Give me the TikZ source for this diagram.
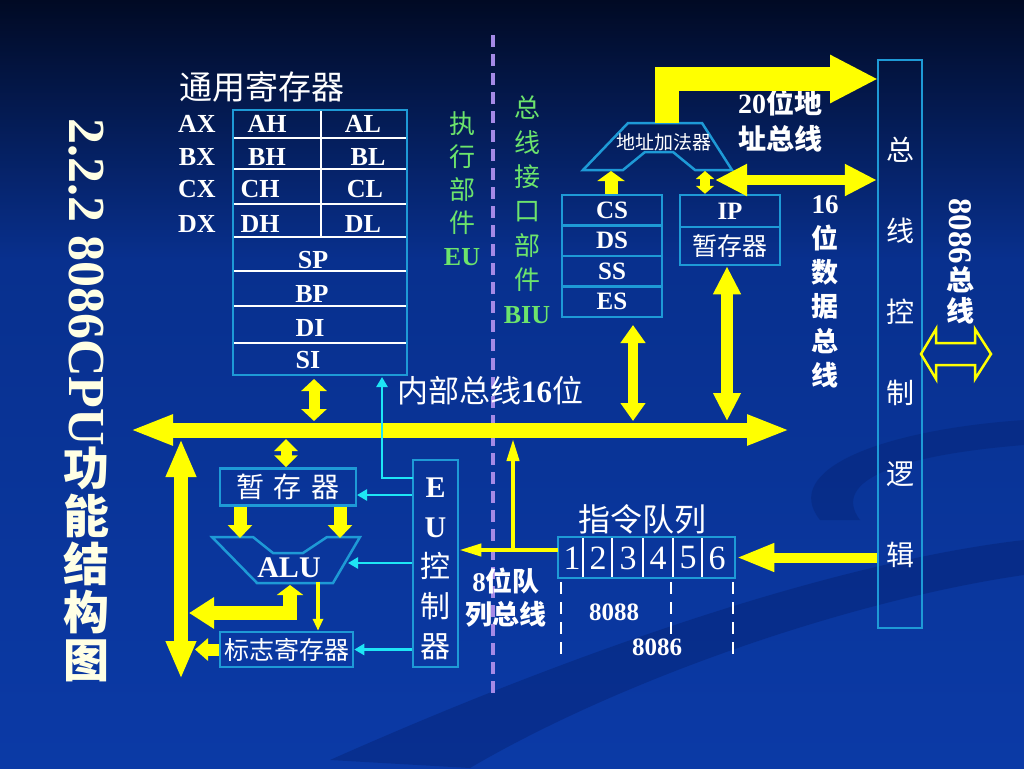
\documentclass[tikz,border=0pt]{standalone}
\usepackage{fontspec}
\setmainfont{Liberation Serif}
\newfontfamily\cjk{Noto Sans CJK SC}
\usetikzlibrary{arrows.meta,positioning,calc}
\definecolor{bgtop}{HTML}{010A24}
\definecolor{bgmid}{HTML}{08308E}
\definecolor{bgbot}{HTML}{0B3AA6}
\definecolor{boxline}{HTML}{1E9AD6}
\definecolor{busyel}{HTML}{FFFF00}
\definecolor{ctlcyan}{HTML}{1EE6F5}
\definecolor{unitgreen}{HTML}{6CE46C}
\definecolor{divpurple}{HTML}{A58AE6}
\definecolor{titlecream}{HTML}{FFFFE4}
\definecolor{swoosh}{HTML}{031C66}
\newcommand\setfs[1]{\fontsize{#1}{#1}\selectfont}

\begin{document}
\begin{tikzpicture}[
    x=1pt,
    y=-1pt,
    lat/.style={text=white, inner sep=0pt, font=\bfseries\setfs{#1}},
    lat/.default=26,
    han/.style={text=white, inner sep=0pt, font=\cjk\setfs{#1}},
    han/.default=26,
    stack/.style n args={2}{text=white, inner sep=0pt, align=center, font=\cjk\fontsize{#1}{#2}\selectfont},
    box/.style={draw=boxline, line width=2.5pt, inner sep=0pt, text=white},
    cellline/.style={draw=white, line width=1.2pt},
    yarr/.style n args={3}{draw=busyel, line width=#1, -{Triangle[length=#2,width=#3]}},
    ydbl/.style n args={3}{draw=busyel, line width=#1, {Triangle[length=#2,width=#3]}-{Triangle[length=#2,width=#3]}},
    cyanarr/.style={draw=ctlcyan, line width=2.5pt, -{Triangle[length=10pt,width=11pt]}},
    divider/.style={draw=divpurple, line width=3.5pt, dash pattern=on 12pt off 7pt},
    qdash/.style={draw=white, line width=2pt, dash pattern=on 12pt off 8pt},
    unitlbl/.style={text=unitgreen, inner sep=0pt, align=center, font=\cjk\fontsize{26}{#1}\selectfont},
    ttl/.style={inner sep=0pt, text=titlecream, font=\bfseries\setfs{52}}
  ]
    \useasboundingbox (0,0) rectangle (1024,768);
    \shade[top color=bgtop, bottom color=bgmid] (0,0) rectangle (1024,260);
    \shade[top color=bgmid, bottom color=bgbot] (0,259) rectangle (1024,768);
    \fill[swoosh, opacity=0.35] (330,760) .. controls (600,640) and (850,560) .. (1024,540) -- (1024,575) .. controls (850,600) and (620,680) .. (470,768) -- cycle;
    \fill[swoosh, opacity=0.3] (820,520) .. controls (780,470) and (880,430) .. (1024,420) -- (1024,445) .. controls (900,455) and (830,480) .. (860,520) -- cycle;

    \node[ttl, rotate=-90, anchor=west] (ttl) at (86,118) {2.2.2 8086CPU};
    \node[text=titlecream, inner sep=0pt, anchor=north, align=center, font=\cjk\bfseries\fontsize{46}{48}\selectfont] (ttlzh) at (ttl.east) {功\\能\\结\\构\\图};

    \node[han=33] (gprtitle) at (262,87) {通用寄存器};
    \node[box, minimum width=174pt, minimum height=265pt] (regs) at (320,242.5) {};
    \foreach \yy in {138,169,204,237,271,306,343}
      \draw[cellline] (234,\yy) -- (406,\yy);
    \draw[cellline] (321,111) -- (321,237);
    \node[lat] (ax) at (197,124) {AX};
    \node[lat] (bx) at (197,157) {BX};
    \node[lat] (cx) at (197,189) {CX};
    \node[lat] (dx) at (197,224) {DX};
    \node[lat] (ah) at (267,124) {AH};
    \node[lat] (al) at (363,124) {AL};
    \node[lat] (bh) at (267,157) {BH};
    \node[lat] (bl) at (368,157) {BL};
    \node[lat] (ch) at (260,189) {CH};
    \node[lat] (cl) at (365,189) {CL};
    \node[lat] (dh) at (260,224) {DH};
    \node[lat] (dl) at (363,224) {DL};
    \node[lat] (sp) at (313,260) {SP};
    \node[lat] (bp) at (312,294) {BP};
    \node[lat] (di) at (310,328) {DI};
    \node[lat] (si) at (308,360) {SI};

    \node[unitlbl=33] (eulbl) at (462,189) {执\\行\\部\\件\\{\rmfamily\bfseries EU}};
    \node[unitlbl=34.3] (biulbl) at (527,210) {总\\线\\接\\口\\部\\件\\{\rmfamily\bfseries BIU}};
    \coordinate (divtop) at (493,35);
    \coordinate (divbot) at (493,698);
    \draw[divider] (divtop) -- (divbot);

    \node[han=31] (buslbl) at (490,391) {内部总线{\rmfamily\bfseries 16}位};

    \node[box, minimum width=136pt, minimum height=37pt, font=\cjk\setfs{28}] (tmpreg) at (288,487) {暂\hspace{10pt}存\hspace{10pt}器};
    \draw[box] (212,537) -- (253,537) -- (273,553) -- (303,553) -- (327,537) -- (360,537) -- (333,583) -- (257,583) -- cycle;
    \node[lat=30] (alu) at (289,568) {ALU};
    \node[box, minimum width=133pt, minimum height=35pt, font=\cjk\setfs{25}] (flags) at (286.5,649.5) {标志寄存器};
    \node[box, minimum width=45pt, minimum height=207pt] (euctl) at (435.5,563.5) {};
    \node[stack={30}{40}] (euctltxt) at (435.5,569) {{\rmfamily\bfseries E}\\{\rmfamily\bfseries U}\\控\\制\\器};

    \node[han=32] (qtitle) at (642,519) {指令队列};
    \node[box, minimum width=177pt, minimum height=41pt] (queue) at (646.5,557.5) {};
    \foreach \xx in {583,612,643,673,702}
      \draw[cellline] (\xx,538) -- (\xx,577);
    \foreach \d/\xx in {1/572,2/598,3/628,4/658,5/688,6/717}
      \node[text=white, inner sep=0pt, font=\setfs{34}] (q\d) at (\xx,558) {\d};
    \draw[qdash] (561,582) -- (561,658);
    \draw[qdash] (671,582) -- (671,634);
    \draw[qdash] (733,582) -- (733,658);
    \node[lat=25] (lbl8088) at (614,612) {8088};
    \node[lat=25] (lbl8086) at (657,647) {8086};
    \node[stack={27}{33}, font=\cjk\bfseries\fontsize{27}{33}\selectfont] (qbuslbl) at (506,598) {{\rmfamily 8}位队\\列总线};

    \node[box, minimum width=100pt, minimum height=30.5pt, font=\bfseries\setfs{25}] (cs) at (612,210.25) {CS};
    \node[box, minimum width=100pt, minimum height=30.5pt, font=\bfseries\setfs{25}] (ds) at (612,240.75) {DS};
    \node[box, minimum width=100pt, minimum height=30.5pt, font=\bfseries\setfs{25}] (ss) at (612,271.25) {SS};
    \node[box, minimum width=100pt, minimum height=30.5pt, font=\bfseries\setfs{25}] (es) at (612,301.75) {ES};
    \node[box, minimum width=100pt, minimum height=32pt, font=\bfseries\setfs{25}] (ip) at (730,211) {IP};
    \node[box, minimum width=100pt, minimum height=38pt, font=\cjk\setfs{25}] (iptmp) at (730,246) {暂存器};
    \draw[box] (583,170) -- (628,123) -- (702,123) -- (732,170) -- (695,170) -- (673,152) -- (645,152) -- (623,170) -- cycle;
    \node[han=19] (adder) at (664,142) {地址加法器};

    \node[box, minimum width=44pt, minimum height=568pt] (busctl) at (900,344) {};
    \node[stack={28}{81}] (busctltxt) at (900,352) {总\\线\\控\\制\\逻\\辑};
    \node[stack={27}{34.4}, font=\cjk\bfseries\fontsize{27}{34.4}\selectfont] (dbuslbl) at (825,292) {{\rmfamily 16}\\位\\数\\据\\总\\线};
    \node[stack={28}{36}, font=\cjk\bfseries\fontsize{28}{36}\selectfont] (abuslbl) at (780,121) {{\rmfamily 20}位地\\址总线};
    \node[lat=33, rotate=-90, anchor=west] (extbus) at (960,198) {8086};
    \node[stack={28}{31}, font=\cjk\bfseries\fontsize{28}{31}\selectfont, anchor=north] (extbuszh) at ([yshift=-2pt]extbus.east) {总\\线};
    \draw[busyel, line width=2.5pt] (921,354) -- (936,329) -- (936,343) -- (975,343) -- (975,329) -- (991,354) -- (975,379) -- (975,365) -- (936,365) -- (936,379) -- cycle;

    \coordinate (busl) at (130,430);
    \coordinate (busr) at (790,430);
    \draw[ydbl={15pt}{43pt}{28pt}] (busl) -- (busr);
    \coordinate (regout) at (314,379);
    \coordinate (regbus) at (314,421);
    \draw[ydbl={11pt}{12pt}{25pt}] (regout) -- (regbus);
    \coordinate (tmpbus) at (286,439);
    \draw[ydbl={11pt}{12pt}{23pt}] (tmpbus) -- (tmpbus |- tmpreg.north);
    \coordinate (lvtop) at (181,439);
    \coordinate (lvbot) at (181,679);
    \draw[ydbl={14pt}{38pt}{28pt}] (lvtop) -- (lvbot);
    \coordinate (alua) at (240,538);
    \coordinate (alub) at (340,538);
    \draw[yarr={13pt}{13pt}{24pt}] (tmpreg.south -| alua) -- (alua);
    \draw[yarr={13pt}{13pt}{24pt}] (tmpreg.south -| alub) -- (alub);
    \coordinate (alubot) at (290,585);
    \coordinate (lvhit) at (189,613);
    \draw[draw=busyel, line width=14pt, {Triangle[length=10pt,width=26pt]}-{Triangle[length=25pt,width=30pt]}] (alubot) |- (lvhit);
    \coordinate (aluflag) at (318,582);
    \draw[yarr={3.5pt}{12pt}{10pt}] (aluflag) -- (aluflag |- flags.north);
    \coordinate (flagsout) at (195,649.5);
    \draw[yarr={12pt}{13pt}{22pt}] (flags.west) -- (flagsout);

    \coordinate (qout) at (558,550);
    \coordinate (qjoin) at (513,550);
    \coordinate (qbus) at (513,439);
    \draw[yarr={4pt}{22pt}{12pt}] (qout) -- (euctl.east |- qout);
    \draw[yarr={4pt}{22pt}{12pt}] (qjoin) -- (qbus);
    \draw[yarr={10pt}{38pt}{26pt}] (busctl.west |- queue.east) -- (queue.east);

    \coordinate (addrout) at (667,123);
    \coordinate (addrin) at (878,79);
    \draw[yarr={24pt}{48pt}{45pt}] (addrout) |- (addrin);
    \coordinate (dbl) at (715,180);
    \draw[ydbl={10pt}{32pt}{30pt}] (dbl) -- (busctl.west |- dbl);
    \coordinate (adip) at (705,171);
    \draw[ydbl={10pt}{8pt}{18pt}] (adip) -- (adip |- ip.north);
    \coordinate (csad) at (611,171);
    \draw[yarr={13pt}{10pt}{27pt}] (cs.north -| csad) -- (csad);
    \coordinate (estop) at (633,325);
    \coordinate (esbus) at (633,421);
    \draw[ydbl={10pt}{18pt}{24pt}] (estop) -- (esbus);
    \coordinate (ipbus) at (727,421);
    \draw[ydbl={12pt}{28pt}{26pt}] (iptmp.south -| ipbus) -- (ipbus);

    \coordinate (euup) at (413,478);
    \coordinate (regin) at (382,377);
    \draw[cyanarr] (euup) -| (regin);
    \coordinate (tmpin) at (357,495);
    \draw[cyanarr] (euctl.west |- tmpin) -- (tmpin);
    \coordinate (aluin) at (348,563);
    \draw[cyanarr] (euctl.west |- aluin) -- (aluin);
    \draw[cyanarr] (euctl.west |- flags.east) -- (flags.east);
  \end{tikzpicture}
\end{document}
